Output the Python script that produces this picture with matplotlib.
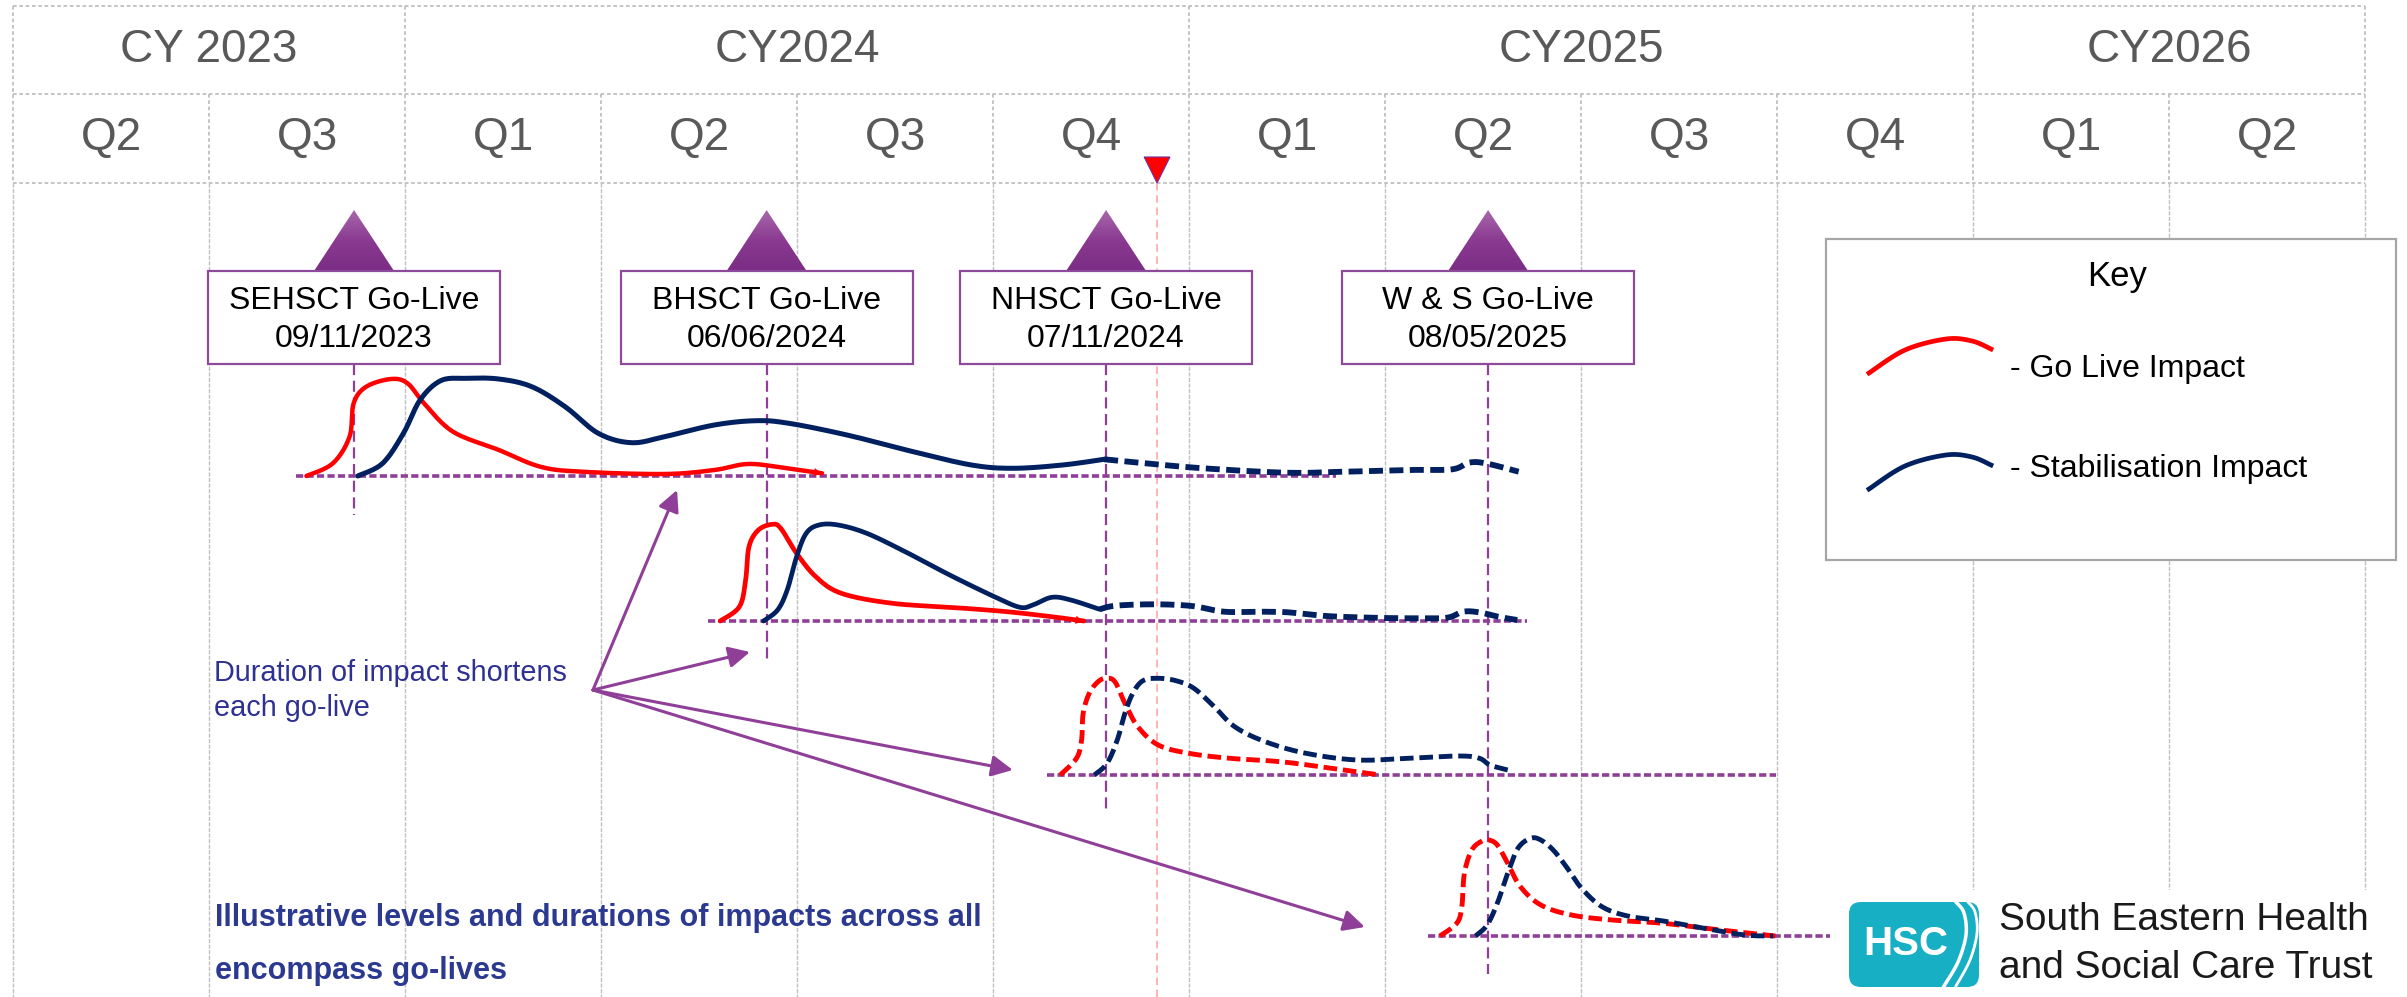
import numpy as np
import matplotlib
matplotlib.use('Agg')
import matplotlib.pyplot as plt
from matplotlib.patches import Rectangle, Polygon, FancyBboxPatch
from matplotlib.colors import LinearSegmentedColormap
from matplotlib.transforms import Affine2D

plt.rcParams['font.family'] = ['Liberation Sans', 'DejaVu Sans']

''' Data '''
years = ['CY 2023', 'CY2024', 'CY2025', 'CY2026']
year_spans = [(0, 2), (2, 6), (6, 10), (10, 12)]
quarters = ['Q2', 'Q3', 'Q1', 'Q2', 'Q3', 'Q4', 'Q1', 'Q2', 'Q3', 'Q4', 'Q1', 'Q2']

trusts = ['SEHSCT', 'BHSCT', 'NHSCT', 'W & S']
go_live_dates = ['09/11/2023', '06/06/2024', '07/11/2024', '08/05/2025']
go_live_q = [1.740, 3.845, 5.577, 7.526]      # position on the quarter axis
today_q = 5.837

row_base = [476, 621, 775, 936]               # baseline of each go-live row
row_span = [(1.444, 6.750), (3.546, 7.724), (5.276, 8.995), (7.219, 9.33)]
vline_end = [515, 660, 813, 974]

# go live impact (red) : quarter, level
red1_q = [1.497, 1.632, 1.717, 1.738, 1.802, 1.929, 2.013, 2.097, 2.245, 2.479, 2.690, 2.901, 3.324, 3.578, 3.747, 3.917, 4.128]
red1_v = [0, 12.7, 39.3, 72.7, 89.3, 97, 92.7, 72.7, 44.3, 26, 9.3, 4.3, 2, 6, 12, 8.7, 2.7]
red2_q = [3.608, 3.706, 3.738, 3.755, 3.803, 3.874, 3.917, 3.998, 4.096, 4.226, 4.486, 4.812, 5.072, 5.300, 5.463]
red2_v = [0, 14.3, 41, 74.3, 91, 96.7, 92.7, 67.7, 44.3, 27.7, 17.7, 13.3, 9.3, 4.3, 0]
red3_q = [5.343, 5.426, 5.452, 5.460, 5.491, 5.536, 5.577, 5.622, 5.673, 5.739, 5.843, 5.999, 6.207, 6.467, 6.728, 6.975]
red3_v = [0, 16.7, 35, 61.7, 81.7, 93.3, 96.7, 93.3, 71.7, 48.3, 30, 21.7, 16.7, 13.3, 6.7, 0]
red4_q = [7.280, 7.366, 7.392, 7.405, 7.443, 7.495, 7.530, 7.573, 7.626, 7.691, 7.795, 7.951, 8.159, 8.420, 8.680, 8.992]
red4_v = [0, 12.7, 29.3, 62.7, 86, 95, 96, 91, 72.7, 49.3, 31, 21, 16, 12.7, 6.7, 0]

# stabilisation impact (blue), solid part then dashed tail
blue1_q = [1.759, 1.886, 1.992, 2.077, 2.182, 2.309, 2.479, 2.647, 2.817, 2.986, 3.155, 3.324, 3.578, 3.790, 3.959, 4.255, 4.593, 4.890, 5.102, 5.355, 5.567]
blue1_v = [0, 12.7, 42.7, 76, 95.3, 97.7, 97, 89.3, 69.3, 42.7, 33.3, 39.3, 51, 55.3, 52.7, 41, 24.3, 11, 7.7, 11, 16.7]
blue1_tail_q = [5.567, 5.778, 6.074, 6.497, 6.793, 7.132, 7.343, 7.428, 7.513, 7.682]
blue1_tail_v = [16.7, 12.7, 7.7, 3.3, 4.3, 6, 6.7, 13.3, 12.7, 4.3]
blue2_q = [3.829, 3.901, 3.950, 3.998, 4.047, 4.112, 4.210, 4.356, 4.552, 4.779, 5.007, 5.137, 5.203, 5.300, 5.397, 5.544]
blue2_v = [0, 11, 31, 64.3, 87.7, 96, 96, 87.7, 69.3, 46, 24.3, 13.7, 16, 23.7, 21, 11.7]
blue2_tail_q = [5.544, 5.626, 5.821, 6.016, 6.179, 6.373, 6.504, 6.699, 6.927, 7.155, 7.317, 7.398, 7.480, 7.577, 7.675]
blue2_tail_v = [11.7, 15.3, 16.7, 15, 9.3, 9.3, 8.7, 5, 3.3, 2.7, 3.3, 9.3, 8.7, 4.3, 1]
blue3_q = [5.517, 5.582, 5.634, 5.673, 5.713, 5.765, 5.843, 5.934, 6.025, 6.129, 6.233, 6.389, 6.597, 6.858, 7.118, 7.379, 7.482, 7.535, 7.626]
blue3_v = [0, 11.7, 35, 61.7, 81.7, 94.3, 96.7, 94.3, 86.7, 68.3, 48.3, 33.3, 21.7, 15, 16.7, 19, 16.7, 10, 5]
blue4_q = [7.462, 7.521, 7.573, 7.626, 7.678, 7.743, 7.795, 7.858, 7.925, 8.003, 8.107, 8.238, 8.420, 8.628, 8.836, 8.980]
blue4_v = [0, 11, 32.7, 62.7, 87.7, 97.7, 96, 86, 69.3, 47.7, 29.3, 20, 15, 7.7, 1, 0]

arrow_from = (2.959, 690)
arrow_to_q = [3.388, 3.760, 5.101, 6.897]
arrow_to_y = [490, 652, 770, 927]

RED = '#ff0000'
NAVY = '#002060'
PURPLE = '#8f3f97'
GREY_TXT = '#595959'
GRID = '#c0c0c0'


def smooth(x, y, n=14):
    # catmull-rom through the read points, just for drawing
    p = np.column_stack([x, y]).astype(float)
    p = np.vstack([p[0], p, p[-1]])
    t = np.linspace(0, 1, n, endpoint=False)[:, None]
    out = []
    for i in range(1, len(p) - 2):
        p0, p1, p2, p3 = p[i - 1], p[i], p[i + 1], p[i + 2]
        out.append(0.5 * (2 * p1 + (-p0 + p2) * t + (2 * p0 - 5 * p1 + 4 * p2 - p3) * t ** 2
                          + (-p0 + 3 * p1 - 3 * p2 + p3) * t ** 3))
    out.append(p[-2][None])
    out = np.vstack(out)
    return out[:, 0], out[:, 1]


fig = plt.figure(figsize=(24.07, 9.97), dpi=100)
ax = fig.add_axes([0, 0, 1, 1])
# image pixel transform for layout items (legend, logo)
pix = Affine2D().scale(1 / 2407, -1 / 997).translate(0, 1) + fig.transFigure

''' header grid '''
dot = (0, (2, 1.5))
for yy in [6, 94, 183]:
    ax.plot([0, 12], [yy, yy], color='#bfbfbf', lw=1.3, ls=dot, zorder=1)
year_edges = [0, 2, 6, 10, 12]
for k in range(13):
    top = 6 if k in year_edges else 94
    ax.plot([k, k], [top, 183], color='#bfbfbf', lw=1.3, ls=dot, zorder=1)
    ax.plot([k, k], [183, 997], color=GRID, lw=1.0, ls=(0, (3, 1)), zorder=1)

for name, (a, b) in zip(years, year_spans):
    ax.text((a + b) / 2, 50, name, ha='center', va='center', fontsize=33, color=GREY_TXT)
for i, qn in enumerate(quarters):
    ax.text(i + 0.5, 138, qn, ha='center', va='center', fontsize=33, color=GREY_TXT)

''' today marker '''
ax.plot([today_q, today_q], [183, 997], color='#ff9f9f', lw=1.1, ls=(0, (5, 3)), zorder=1.5)
ax.add_patch(Polygon([(today_q - 0.066, 157), (today_q + 0.066, 157), (today_q, 183)],
                     closed=True, facecolor=RED, edgecolor='#7030a0', lw=0.8, zorder=5))

''' go-live boxes and triangles '''
cmap = LinearSegmentedColormap.from_list('tri', ['#a767ab', '#8a3a90', '#7b2c84'])
for gx, name, dt in zip(go_live_q, trusts, go_live_dates):
    hw = 40 / 196
    tri = Polygon([(gx - hw, 271), (gx, 210), (gx + hw, 271)], closed=True,
                  facecolor='none', edgecolor='none', zorder=3)
    ax.add_patch(tri)
    im = ax.imshow(np.linspace(0, 1, 64)[:, None], extent=(gx - hw, gx + hw, 271, 210),
                   cmap=cmap, aspect='auto', origin='upper', zorder=3)
    im.set_clip_path(tri)
    bw = 292 / 196
    ax.add_patch(Rectangle((gx - bw / 2, 271), bw, 93, facecolor='white',
                           edgecolor='#8e4a9a', lw=1.6, zorder=4))
    ax.text(gx, 301, name + ' Go-Live', ha='center', va='center', fontsize=23, color='black', zorder=5)
    ax.text(gx, 339, dt, ha='center', va='center', fontsize=23, color='black', zorder=5)

''' baselines and go-live lines '''
for base, (a, b), gx, ye in zip(row_base, row_span, go_live_q, vline_end):
    ax.plot([a, b], [base, base], color=PURPLE, lw=2.6, ls=(0, (2, 0.9)), zorder=2)
    ax.plot([gx, gx], [364, ye], color=PURPLE, lw=1.6, ls=(0, (5, 2.5)), zorder=2)

''' impact curves '''
def draw(q, v, base, color, ls='-', lw=3.5, head=False):
    xs, ys = smooth(q, v)
    ax.plot(xs, base - ys, color=color, lw=lw, ls=ls, solid_capstyle='round', zorder=6)
    if head:
        ax.annotate('', xy=(xs[-1], base - ys[-1]), xytext=(xs[-4], base - ys[-4]),
                    arrowprops=dict(arrowstyle='-|>', color=color, lw=0.1,
                                    mutation_scale=14, shrinkA=0, shrinkB=0), zorder=6)

dash = (0, (2.8, 1.2))
tail = (0, (2.4, 1.1))
draw(red1_q, red1_v, row_base[0], RED, lw=3.2, head=True)
draw(blue1_q, blue1_v, row_base[0], NAVY, lw=3.6)
draw(blue1_tail_q, blue1_tail_v, row_base[0], NAVY, ls=tail, lw=4.2)
draw(red2_q, red2_v, row_base[1], RED, lw=3.4, head=True)
draw(blue2_q, blue2_v, row_base[1], NAVY, lw=3.4)
draw(blue2_tail_q, blue2_tail_v, row_base[1], NAVY, ls=tail, lw=4.2)
draw(red3_q, red3_v, row_base[2], RED, ls=dash)
draw(blue3_q, blue3_v, row_base[2], NAVY, ls=dash)
draw(red4_q, red4_v, row_base[3], RED, ls=dash)
draw(blue4_q, blue4_v, row_base[3], NAVY, ls=dash)

''' annotation arrows '''
for tq, ty in zip(arrow_to_q, arrow_to_y):
    ax.annotate('', xy=(tq, ty), xytext=arrow_from,
                arrowprops=dict(arrowstyle='-|>', color=PURPLE, lw=2.2,
                                mutation_scale=32, shrinkA=0, shrinkB=0), zorder=6)

ax.text(214, 673, 'Duration of impact shortens', transform=pix, ha='left', va='center',
        fontsize=20.8, color='#2e3192')
ax.text(214, 708, 'each go-live', transform=pix, ha='left', va='center',
        fontsize=20.8, color='#2e3192')
ax.text(215, 918, 'Illustrative levels and durations of impacts across all', transform=pix,
        ha='left', va='center', fontsize=22, fontweight='bold', color='#2b3990')
ax.text(215, 971, 'encompass go-lives', transform=pix,
        ha='left', va='center', fontsize=22, fontweight='bold', color='#2b3990')

''' key '''
ax.add_patch(Rectangle((1826, 239), 570, 321, transform=pix, facecolor='white',
                       edgecolor='#a6a6a6', lw=1.6, zorder=7))
ax.text(2117, 276, 'Key', transform=pix, ha='center', va='center', fontsize=25, zorder=8)
kx, ky = smooth([1869, 1905, 1946, 1972, 1991], [373, 350, 339, 341, 349])
ax.plot(kx, ky, transform=pix, color=RED, lw=3.4, zorder=8)
kx, ky = smooth([1869, 1905, 1946, 1972, 1991], [489, 466, 455, 457, 465])
ax.plot(kx, ky, transform=pix, color=NAVY, lw=3.4, zorder=8)
ax.text(2010, 369, '- Go Live Impact', transform=pix, ha='left', va='center', fontsize=23, zorder=8)
ax.text(2010, 469, '- Stabilisation Impact', transform=pix, ha='left', va='center', fontsize=23, zorder=8)

''' logo '''
ax.add_patch(Rectangle((1830, 890), 577, 107, transform=pix, facecolor='white',
                       edgecolor='none', zorder=7))
ax.add_patch(FancyBboxPatch((1849, 902), 130, 85, transform=pix,
                            boxstyle='round,pad=0,rounding_size=12',
                            facecolor='#17afc3', edgecolor='none', zorder=8))
ax.text(1906, 944, 'HSC', transform=pix, ha='center', va='center', fontsize=29,
        fontweight='bold', color='white', zorder=9)
sx, sy = smooth([1944, 1958, 1966, 1964, 1956], [986, 962, 935, 913, 902])
ax.plot(sx, sy, transform=pix, color='white', lw=2.5, zorder=9)
sx, sy = smooth([1956, 1970, 1977, 1975, 1968], [986, 960, 933, 912, 902])
ax.plot(sx, sy, transform=pix, color='white', lw=2.0, zorder=9)
ax.text(1999, 920, 'South Eastern Health', transform=pix, ha='left', va='center',
        fontsize=28, color='#1a1a1a', zorder=9)
ax.text(1999, 968, 'and Social Care Trust', transform=pix, ha='left', va='center',
        fontsize=28, color='#1a1a1a', zorder=9)

ax.set_xlim(-13 / 196, (2407 - 13) / 196)
ax.set_ylim(997, 0)
ax.axis('off')

fig.savefig('out.png', dpi=100)
